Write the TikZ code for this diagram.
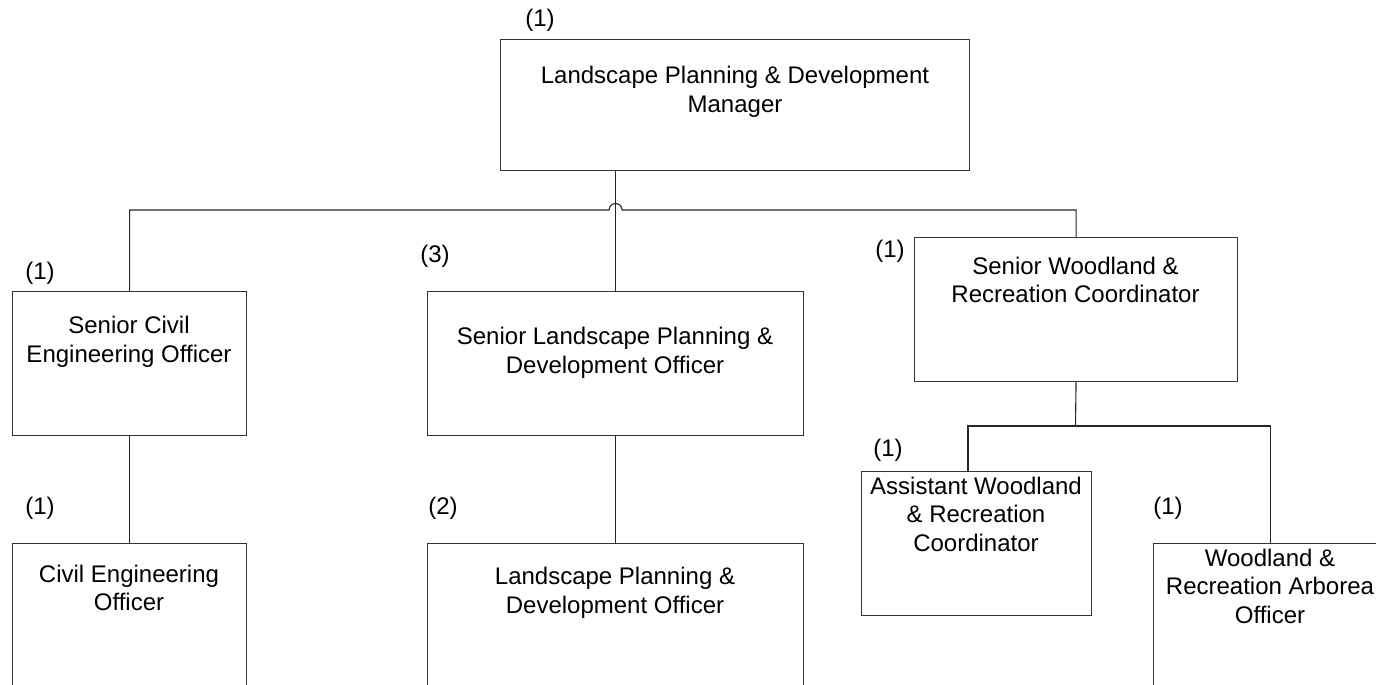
\documentclass[tikz,border=0pt]{standalone}
\usepackage{fontspec}
\setmainfont{Liberation Sans}
\usetikzlibrary{calc}
\begin{document}
\begin{tikzpicture}[x=1pt,y=-1pt,
  post/.style={draw=black!80, line width=1.1pt, inner sep=0pt, anchor=north west},
  title/.style={font=\fontsize{24}{28.5}\selectfont, align=center, inner sep=0pt},
  count/.style={font=\fontsize{24}{29}\selectfont, inner sep=0pt},
  link/.style={draw=black!85, line width=1.1pt}]
\useasboundingbox (0,0) rectangle (1376,685);
\clip (0,0) rectangle (1376,685);

% post boxes
\node[post, minimum width=469pt, minimum height=131pt] (mgr)   at (500,39)  {};
\node[post, minimum width=234pt, minimum height=144pt] (sceo)  at (12,291)  {};
\node[post, minimum width=376pt, minimum height=144pt] (slpdo) at (427,291) {};
\node[post, minimum width=323pt, minimum height=144pt] (swrc)  at (914,237) {};
\node[post, minimum width=230pt, minimum height=144pt] (awrc)  at (861,471) {};
\node[post, minimum width=234pt, minimum height=144pt] (wrao)  at (1153,543) {};
\node[post, minimum width=234pt, minimum height=144pt] (ceo)   at (12,543)  {};
\node[post, minimum width=376pt, minimum height=144pt] (lpdo)  at (427,543) {};

% post titles
\node[title] (mgrT)   at (735,92)    {Landscape Planning \& Development\\Manager};
\node[title] (sceoT)  at (129,342)   {Senior Civil\\Engineering Officer};
\node[title] (slpdoT) at (615,353)   {Senior Landscape Planning \&\\Development Officer};
\node[title] (swrcT)  at (1075.5,280) {Senior Woodland \&\\Recreation Coordinator};
\node[title] (awrcT)  at (976,514)   {Assistant Woodland\\\& Recreation\\Coordinator};
\node[title] (wraoT)  at (1270,586)  {Woodland \&\\Recreation Arborea\\Officer};
\node[title] (ceoT)   at (129,588)   {Civil Engineering\\Officer};
\node[title] (lpdoT)  at (615,593)   {Landscape Planning \&\\Development Officer};

% head counts
\node[count] (mgrN)   at (540,20)  {(1)};
\node[count] (sceoN)  at (40,273)  {(1)};
\node[count] (slpdoN) at (435,256) {(3)};
\node[count] (swrcN)  at (890,251) {(1)};
\node[count] (awrcN)  at (888,450) {(1)};
\node[count] (wraoN)  at (1168,508) {(1)};
\node[count] (ceoN)   at (40,508)  {(1)};
\node[count] (lpdoN)  at (443,508) {(2)};

% reporting lines
\coordinate (bus)  at (616,210);
\coordinate (wbus) at (1075.5,426);
\coordinate (awdrop) at (968,471);

\draw[link] (slpdo.north |- mgr.south) -- (slpdo.north);
\draw[link] (sceo.north) -- (sceo.north |- bus)
  -- ($(slpdo.north |- bus)+(-6.5,0)$) arc[start angle=180, end angle=0, radius=6.5pt]
  -- (swrc.north |- bus) -- (swrc.north);
\draw[link] (swrc.south) -- (wbus);
\draw[link] (awdrop) |- (wbus) -| (wrao.north);
\draw[link] (sceo.south) -- (ceo.north);
\draw[link] (slpdo.south) -- (lpdo.north);
\end{tikzpicture}
\end{document}
